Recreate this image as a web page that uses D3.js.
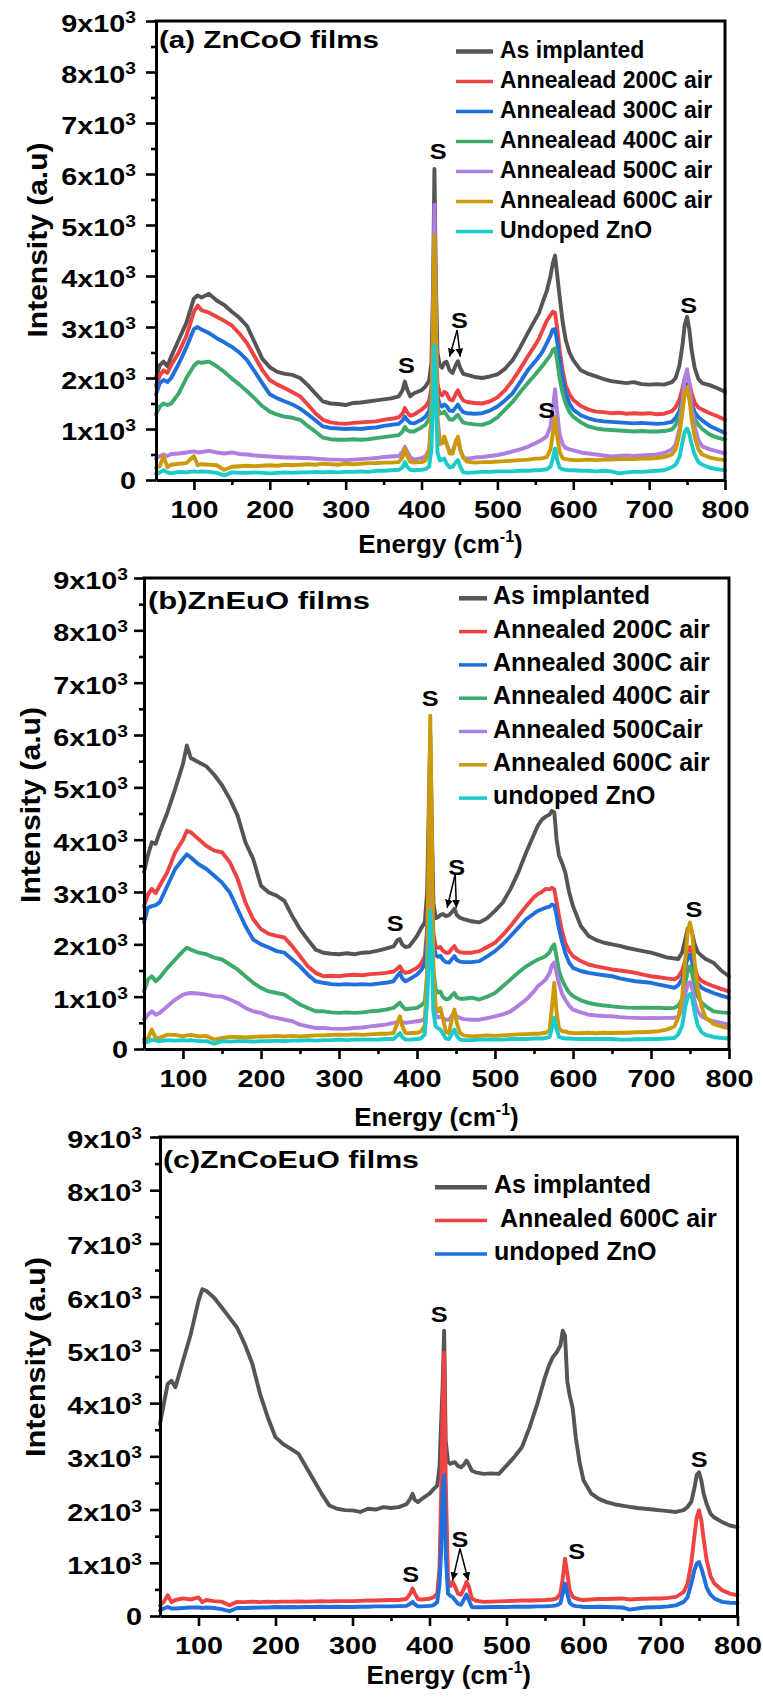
<!DOCTYPE html>
<html><head><meta charset="utf-8">
<script src="https://cdn.jsdelivr.net/npm/d3@7"></script>
<style>
body{margin:0;background:#fff}
svg text{font-family:"Liberation Sans",Arial,Helvetica,sans-serif;font-weight:bold;fill:#000}
</style></head><body>
<svg id="chart" width="763" height="1699"></svg>
<script>
// ---------- data ----------
const energy = [50,55,60,65,70,80,90,100,105,110,120,130,140,150,160,170,180,190,200,210,220,230,240,250,260,270,280,290,300,310,320,330,340,350,360,370,375,378,381,385,390,400,405,410,413,415,417,419,421,424,427,430,433,437,441,445,448,451,455,460,470,480,490,500,510,520,530,540,550,555,560,565,570,573,576,579,582,586,590,595,600,610,620,630,640,650,660,670,680,690,700,710,720,730,735,740,744,747,750,753,756,760,765,770,780,790,800];

const xTickValues = [100,200,300,400,500,600,700,800];
const xMinorValues = [150,250,350,450,550,650,750];
const yTickValues = [0,1000,2000,3000,4000,5000,6000,7000,8000,9000];
const yMinorValues = [500,1500,2500,3500,4500,5500,6500,7500,8500];
const yTickLabels = ["0","1x10","2x10","3x10","4x10","5x10","6x10","7x10","8x10","9x10"];
const yTickExponent = "3";

// Panel (a) ZnCoO
const aAsImplanted = [2000,2250,2320,2230,2420,2750,3080,3560,3620,3580, 3650,3520,3430,3300,3180,3020,2700,2380,2210,2120, 2080,2060,2000,1860,1700,1540,1500,1490,1470,1510, 1520,1540,1560,1580,1600,1640,1760,1930,1780,1640, 1700,1760,1830,1950,2300,3600,6100,3800,2500,2250, 2200,2300,2320,2150,2100,2250,2330,2200,2080,2060, 2020,2000,2030,2070,2180,2350,2600,2880,3150,3280, 3500,3700,4000,4250,4400,4000,3600,3100,2750,2500, 2350,2150,2080,2030,1980,1940,1920,1900,1920,1880, 1870,1880,1870,1920,2000,2250,2650,3050,3200,2950, 2550,2200,1980,1900,1860,1800,1730];
const a200 = [1850,2050,2150,2100,2250,2500,2820,3300,3420,3330, 3280,3200,3120,3030,2870,2680,2420,2160,1960,1870, 1800,1720,1640,1480,1310,1180,1130,1110,1100,1120, 1130,1140,1150,1180,1200,1230,1300,1410,1330,1260, 1280,1380,1440,1550,1800,2800,4500,2900,1900,1700, 1660,1730,1700,1580,1560,1680,1760,1650,1560,1530, 1510,1500,1540,1620,1760,1950,2180,2420,2650,2780, 2950,3120,3230,3300,3280,2950,2550,2150,1850,1680, 1570,1450,1380,1340,1330,1310,1320,1300,1310,1300, 1310,1290,1300,1350,1430,1580,1800,2000,2050,1900, 1700,1520,1420,1380,1310,1250,1180];
const a300 = [1680,1900,1960,1920,2000,2280,2600,2960,3000,2950, 2880,2780,2700,2610,2500,2350,2130,1900,1680,1600, 1540,1480,1400,1290,1170,1050,1020,1010,1000,1010, 1000,1020,1030,1060,1080,1100,1170,1240,1180,1120, 1110,1180,1240,1350,1600,2600,4300,2700,1650,1480, 1440,1480,1450,1360,1350,1420,1480,1400,1330,1310, 1300,1310,1360,1440,1560,1700,1920,2150,2330,2420, 2530,2680,2830,2950,2960,2700,2350,1980,1700,1500, 1380,1270,1210,1170,1150,1140,1130,1120,1110,1120, 1110,1100,1110,1140,1220,1350,1600,1820,1880,1720, 1520,1330,1230,1170,1060,990,920];
const a400 = [1290,1440,1500,1470,1500,1700,2000,2240,2310,2300, 2320,2230,2120,1990,1870,1740,1600,1450,1340,1280, 1240,1220,1180,1060,950,830,800,790,790,800, 790,800,820,840,860,880,950,1040,980,950, 950,1030,1080,1200,1450,2300,4000,2400,1450,1300, 1310,1340,1280,1190,1180,1240,1280,1200,1130,1110, 1090,1080,1130,1230,1380,1530,1720,1900,2070,2160, 2250,2350,2450,2550,2580,2330,2000,1700,1500,1330, 1240,1130,1050,1010,990,980,970,960,950,960, 950,950,960,990,1080,1250,1500,1700,1760,1600, 1400,1200,1080,1000,890,830,790];
const a500 = [420,470,500,470,510,520,540,560,540,550, 570,540,520,540,510,500,480,470,460,450, 440,440,430,430,420,410,400,400,390,400, 410,420,430,450,460,470,550,650,560,450, 400,430,460,600,1200,3000,5400,3200,1200,800, 720,780,700,560,560,720,800,600,440,420, 440,450,470,490,520,560,600,650,720,760, 800,860,1050,1400,1780,1300,900,700,630,600, 580,540,520,500,480,460,470,480,470,480, 490,500,530,600,700,1000,1550,2000,2170,1900, 1450,1050,780,660,600,560,520];
const a600 = [240,270,470,250,300,320,330,470,290,310, 300,290,200,260,270,280,270,280,290,280, 300,290,300,310,300,320,310,300,320,310, 320,330,330,340,340,350,450,620,480,360, 340,350,380,550,1200,2600,4800,2900,1100,700, 750,850,720,520,520,760,850,600,440,360, 340,350,350,360,370,380,390,400,420,420, 430,450,600,900,1240,850,550,430,410,400, 390,390,400,390,400,400,410,410,410,420, 420,430,450,500,600,900,1350,1700,1820,1600, 1200,850,600,500,440,410,390];
const aUndoped = [120,150,190,150,130,160,150,170,160,170, 160,140,90,150,140,140,150,140,130,140, 150,140,150,150,160,150,160,150,160,160, 170,160,180,180,190,200,250,350,260,200, 190,200,210,260,600,1500,2650,1700,550,380, 400,420,320,250,260,340,390,260,150,140, 150,160,160,170,170,170,180,180,190,190, 200,210,260,420,620,380,240,210,200,190, 190,180,180,170,180,170,130,150,160,160, 170,180,190,250,300,450,750,950,1010,900, 700,500,350,300,240,210,190];

// Panel (b) ZnEuO
const bAsImplanted = [3380,3700,3950,3920,4140,4520,4970,5450,5800,5560, 5480,5400,5240,5040,4780,4460,3950,3630,3120,2990, 2930,2830,2540,2290,2090,1900,1840,1820,1810,1830, 1810,1840,1850,1880,1920,1960,2080,2100,2000,1950, 1960,2160,2300,2420,3000,4500,6000,4300,2800,2500, 2520,2560,2580,2540,2560,2620,2680,2560,2510,2480, 2440,2420,2500,2640,2800,3060,3380,3760,4100,4270, 4380,4440,4480,4550,4520,4000,3700,3550,3380,3000, 2730,2350,2160,2080,2030,2000,1970,1930,1900,1870, 1840,1800,1750,1730,1720,1850,2100,2300,2350,2200, 2000,1850,1780,1720,1650,1500,1390];
const b200 = [2730,2950,3060,2980,3120,3380,3760,4000,4170,4140, 4010,3880,3790,3760,3570,3250,2800,2480,2290,2200, 2160,2130,1965,1775,1580,1455,1390,1400,1390,1410, 1420,1410,1430,1440,1455,1480,1540,1580,1500,1455, 1470,1550,1620,1775,2300,3800,5500,3600,2200,1960, 1930,1950,1880,1840,1840,1920,1965,1880,1850,1840, 1840,1870,1950,2030,2180,2350,2540,2730,2900,2960, 3000,3060,3050,3080,3050,2800,2550,2250,2030,1870, 1775,1680,1615,1580,1550,1520,1500,1480,1455,1420, 1390,1370,1350,1330,1380,1500,1700,1900,1950,1800, 1550,1380,1300,1260,1200,1150,1100];
const b300 = [2420,2700,2730,2750,2800,3120,3440,3630,3720,3660, 3530,3440,3310,3180,2990,2670,2350,2090,2000,1940, 1870,1840,1710,1580,1420,1295,1265,1240,1230,1240, 1230,1240,1230,1250,1265,1295,1400,1455,1350,1295, 1330,1420,1500,1615,2100,3500,5200,3300,2000,1800, 1760,1780,1710,1660,1650,1720,1775,1700,1670,1660, 1660,1680,1770,1870,2000,2160,2320,2480,2590,2640, 2670,2700,2720,2760,2740,2550,2300,2050,1840,1650, 1550,1490,1455,1430,1410,1390,1350,1320,1295,1280, 1265,1230,1200,1170,1220,1350,1550,1750,1800,1650, 1420,1250,1170,1130,1070,1020,975];
const b400 = [1100,1330,1390,1295,1360,1550,1710,1870,1935,1900, 1840,1810,1745,1710,1615,1520,1390,1265,1170,1100, 1070,1040,945,850,785,720,720,700,690,700, 690,700,720,730,753,785,850,885,820,760, 770,785,830,900,1400,3000,4800,2900,1500,1150, 1080,1100,1000,950,960,1030,1070,990,960,960, 980,945,1000,1070,1200,1330,1460,1580,1670,1710, 1740,1775,1850,1950,2000,1750,1500,1320,1200,1080, 1010,930,880,850,830,815,800,790,785,790, 785,790,780,785,830,950,1250,1500,1580,1420, 1200,1000,880,820,720,700,690];
const b500 = [560,655,720,655,690,815,945,1040,1060,1070, 1060,1040,1010,1000,945,880,785,720,690,625, 595,560,530,465,433,400,400,390,385,390, 400,410,433,450,465,500,520,540,520,500, 510,530,540,580,1000,2500,4000,2400,1000,650, 600,620,595,560,560,640,690,620,595,570, 560,560,590,625,660,720,830,945,1100,1200, 1260,1330,1450,1600,1650,1450,1250,1050,945,830, 753,700,655,640,630,625,610,600,595,590, 595,590,595,595,620,750,1050,1230,1280,1150, 900,720,620,580,530,500,465];
const b600 = [180,200,370,210,210,275,270,240,260,270, 240,250,180,210,230,230,220,230,240,240, 250,240,250,240,250,260,260,270,275,270, 280,270,280,290,290,305,500,625,450,305, 300,310,330,450,1500,4000,6370,4200,1500,800, 720,785,600,330,300,600,753,500,305,260, 240,250,260,250,260,270,280,285,290,290, 300,310,360,800,1265,700,400,340,335,310, 305,300,310,300,310,305,310,310,320,320, 330,340,370,430,600,1000,1700,2250,2415,2200, 1650,1150,800,600,480,430,400];
const bUndoped = [115,140,180,160,150,170,160,170,160,170, 150,150,100,150,140,150,150,140,150,150, 160,150,160,160,170,160,170,170,180,170, 180,180,180,180,190,190,260,305,230,180, 180,190,200,280,900,1800,2640,1800,700,433, 400,370,300,200,190,300,370,250,180,170, 170,180,180,180,180,190,190,190,200,200, 200,210,230,400,595,380,230,210,200,200, 195,190,190,190,190,190,180,180,185,185, 190,190,200,210,280,450,800,1000,1050,950, 700,450,320,270,230,210,200];

// Panel (c) ZnCoEuO
const cAsImplanted = [3610,3990,4360,4420,4300,4800,5300,5920,6140,6110, 5985,5800,5610,5420,5110,4735,4170,3730,3360,3230, 3140,3045,2795,2545,2295,2075,2015,1990,1985,1955, 2015,2000,2045,2030,2045,2100,2200,2295,2180,2140, 2200,2300,2380,2450,2800,3600,4300,5360,3300,2900, 2860,2880,2890,2820,2795,2850,2920,2850,2730,2700, 2670,2680,2670,2825,2985,3170,3545,3985,4485,4700, 4860,4950,5080,5360,5270,4400,4150,3900,3350,2880, 2550,2300,2200,2140,2100,2075,2050,2030,2015,2000, 1985,1970,1955,1990,2045,2150,2400,2650,2700,2550, 2300,2100,1920,1850,1765,1700,1670];
const c600 = [200,265,390,260,300,330,310,350,260,300, 280,270,200,265,260,270,260,270,265,270, 270,275,270,275,280,275,280,280,280,285, 290,290,295,300,300,320,420,515,420,320, 310,325,350,420,900,2200,3800,4950,2600,700, 560,640,560,420,400,520,640,560,330,290, 265,270,275,280,285,290,290,295,300,305, 310,330,420,700,1075,800,480,360,330,310, 300,310,320,320,325,330,310,320,325,330, 330,340,360,450,600,1000,1500,1850,1985,1800, 1450,1045,750,610,485,420,390];
const cUndoped = [105,140,170,140,140,150,160,160,150,160, 150,130,90,150,150,155,160,160,170,165, 170,165,170,170,175,170,175,170,170,175, 175,180,180,180,185,190,230,265,220,180, 180,190,200,260,600,1200,2300,2640,1200,420, 380,355,300,230,210,320,405,300,170,165, 165,170,170,170,175,175,175,180,180,185, 190,200,240,420,610,420,250,200,185,180, 170,170,175,170,165,160,120,140,160,165, 170,180,200,265,350,610,860,980,1015,900, 750,530,400,330,265,250,245];

const namesA = ["As implanted","Annealead 200C air","Annealead 300C air","Annealead 400C air","Annealead 500C air","Annealead 600C air","Undoped ZnO"];
const namesB = ["As implanted","Annealed 200C air","Annealed 300C air","Annealed 400C air","Annealed 500Cair","Annealed 600C air","undoped ZnO"];
const namesC = ["As implanted"," Annealed 600C air","undoped ZnO"];
const colors7 = ["#555555","#EF4242","#1F6FDD","#3BAA6B","#B07EE0","#CC9A06","#1BCACA"];
const colors3 = ["#555555","#EF4242","#1F6FDD"];

// "S" annotations: [energy, intensity]
const sLabelsA = [[422,6450],[380,2255],[450,3140],[565,1370],[752,3430]];
const arrowsA = [[447,2940,437,2420],[447,2940,451,2420]];
const sLabelsB = [[417,6710],[372,2400],[451,3470],[755,2670]];
const arrowsB = [[449,3340,438.6,2700],[449,3340,450.5,2700]];
const sLabelsC = [[412.5,5670],[375.6,795],[439.6,1450],[591,1230],[750.4,2950]];
const arrowsC = [[439.6,1265,430,670],[439.6,1265,450.4,670]];

// ---------- layout ----------
const panels = [
 {title:"(a) ZnCoO films", titleX:159, titleY:48, titleW:220,
  left:156, right:725, top:21, bottom:480,
  series:[aAsImplanted,a200,a300,a400,a500,a600,aUndoped], names:namesA, colors:colors7,
  legX0:456, legX1:493, legTX:500, legY:51.5, legDY:30, legFont:23,
  yLabGap:20, yTitleX:47, yTitleY:240, yTitleW:195, xTitleY:553,
  s:sLabelsA, arrows:arrowsA},
 {title:"(b)ZnEuO films", titleX:148, titleY:609, titleW:222,
  left:144, right:729, top:578, bottom:1049,
  series:[bAsImplanted,b200,b300,b400,b500,b600,bUndoped], names:namesB, colors:colors7,
  legX0:459, legX1:487, legTX:493, legY:598.3, legDY:33.3, legFont:25,
  yLabGap:16, yTitleX:40, yTitleY:805, yTitleW:196, xTitleY:1126,
  s:sLabelsB, arrows:arrowsB},
 {title:"(c)ZnCoEuO films", titleX:163, titleY:1168, titleW:256,
  left:160, right:737.5, top:1137, bottom:1616,
  series:[cAsImplanted,c600,cUndoped], names:namesC, colors:colors3,
  legX0:435, legX1:487, legTX:494, legY:1187.3, legDY:33.3, legFont:25,
  yLabGap:18, yTitleX:45, yTitleY:1357, yTitleW:200, xTitleY:1684,
  s:sLabelsC, arrows:arrowsC}
];

const svg = d3.select("#chart");
const defs = svg.append("defs");
defs.append("marker").attr("id","arrowHead").attr("viewBox","0 0 10 10")
  .attr("refX",10).attr("refY",5).attr("markerWidth",8).attr("markerHeight",8)
  .attr("markerUnits","userSpaceOnUse").attr("orient","auto")
  .append("path").attr("d","M0,0 L10,5 L0,10 Z").attr("fill","#000");

panels.forEach(p => {
  const g = svg.append("g");
  const x = d3.scaleLinear().domain([50,800]).range([p.left,p.right]);
  const y = d3.scaleLinear().domain([0,9000]).range([p.bottom,p.top]);

  // curves
  const line = d3.line().x((d,i)=>x(energy[i])).y(d=>y(d));
  p.series.forEach((s,k)=>{
    g.append("path").datum(s).attr("d",line).attr("fill","none")
      .attr("stroke",p.colors[k]).attr("stroke-width",3.9)
      .attr("stroke-linejoin","round").attr("stroke-linecap","round");
  });

  // x axis major
  const gx = g.append("g").attr("transform",`translate(0,${p.bottom})`)
    .call(d3.axisBottom(x).tickValues(xTickValues).tickSize(10).tickSizeOuter(0).tickFormat(d3.format("d")));
  gx.select(".domain").attr("stroke","#000").attr("stroke-width",3);
  gx.selectAll(".tick line").attr("stroke","#000").attr("stroke-width",2.6);
  gx.selectAll(".tick text").attr("y",38).attr("dy",0).attr("font-size",24)
    .attr("font-family",null).attr("transform","scale(1.2,1)").attr("fill","#000");
  // x axis minor
  const gxm = g.append("g").attr("transform",`translate(0,${p.bottom})`)
    .call(d3.axisBottom(x).tickValues(xMinorValues).tickSize(5).tickSizeOuter(0).tickFormat(""));
  gxm.select(".domain").remove();
  gxm.selectAll(".tick line").attr("stroke","#000").attr("stroke-width",2.6);

  // y axis major
  const gy = g.append("g").attr("transform",`translate(${p.left},0)`)
    .call(d3.axisLeft(y).tickValues(yTickValues).tickSize(10).tickSizeOuter(0).tickFormat(""));
  gy.select(".domain").attr("stroke","#000").attr("stroke-width",3);
  gy.selectAll(".tick line").attr("stroke","#000").attr("stroke-width",2.6);
  gy.selectAll(".tick").each(function(d,i){
    const t = d3.select(this).append("text")
      .attr("text-anchor","end").attr("font-size",24)
      .attr("transform",`translate(${-p.yLabGap},${d===0?8.5:10.5}) scale(1.2,1)`);
    t.append("tspan").text(yTickLabels[i]);
    if (d!==0) t.append("tspan").attr("dy",-9).attr("font-size",16).text(yTickExponent);
  });
  const gym = g.append("g").attr("transform",`translate(${p.left},0)`)
    .call(d3.axisLeft(y).tickValues(yMinorValues).tickSize(5).tickSizeOuter(0).tickFormat(""));
  gym.select(".domain").remove();
  gym.selectAll(".tick line").attr("stroke","#000").attr("stroke-width",2.6);

  // frame top & right
  g.append("path").attr("d",`M${p.left},${p.top}H${p.right}V${p.bottom}`)
    .attr("fill","none").attr("stroke","#000").attr("stroke-width",3).attr("stroke-linecap","square");

  // titles
  g.append("text").attr("x",p.titleX).attr("y",p.titleY).attr("font-size",23)
    .attr("textLength",p.titleW).attr("lengthAdjust","spacingAndGlyphs").text(p.title);

  const xt = g.append("text").attr("x",(p.left+p.right)/2).attr("y",p.xTitleY)
    .attr("text-anchor","middle").attr("font-size",26);
  xt.append("tspan").text("Energy (cm");
  xt.append("tspan").attr("dy",-11).attr("font-size",16).text("-1");
  xt.append("tspan").attr("dy",11).text(")");

  g.append("text").attr("transform",`translate(${p.yTitleX},${p.yTitleY}) rotate(-90)`)
    .attr("text-anchor","middle").attr("font-size",28)
    .attr("textLength",p.yTitleW).attr("lengthAdjust","spacingAndGlyphs")
    .text("Intensity (a.u)");

  // legend
  p.names.forEach((n,k)=>{
    const ly = p.legY + k*p.legDY;
    g.append("line").attr("x1",p.legX0).attr("x2",p.legX1).attr("y1",ly).attr("y2",ly)
      .attr("stroke",p.colors[k]).attr("stroke-width",k===0?4.5:3.5);
    g.append("text").attr("x",p.legTX).attr("y",ly+6).attr("font-size",p.legFont)
      .style("white-space","pre").text(n);
  });

  // S labels
  p.s.forEach(d=>{
    g.append("text").attr("transform",`translate(${x(d[0])},${y(d[1])+8}) scale(1.15,1)`)
      .attr("text-anchor","middle").attr("font-size",22).text("S");
  });
  p.arrows.forEach(a=>{
    g.append("line").attr("x1",x(a[0])).attr("y1",y(a[1])).attr("x2",x(a[2])).attr("y2",y(a[3]))
      .attr("stroke","#000").attr("stroke-width",1.5).attr("marker-end","url(#arrowHead)");
  });
});
</script>
</body></html>
